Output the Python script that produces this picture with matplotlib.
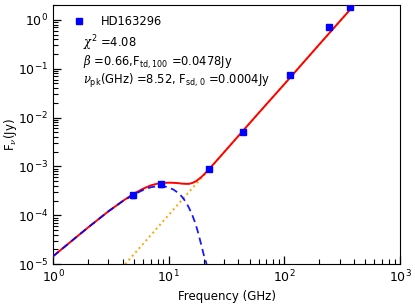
import numpy as np
import matplotlib
matplotlib.use("Agg")
import matplotlib.pyplot as plt

plt.rcParams['font.family'] = ['DejaVu Sans']
plt.rcParams['mathtext.fontset'] = 'custom'
plt.rcParams['mathtext.rm'] = 'DejaVu Sans'
plt.rcParams['mathtext.it'] = 'DejaVu Serif:italic'

# datos observados
freq_obs = [4.9, 8.5, 22.5, 44.0, 112.0, 245.0, 370.0]
flux_obs = [2.55e-4, 4.3e-4, 9.0e-4, 5.1e-3, 0.0736, 0.72, 1.85]
err_obs = [2.5e-5, 4.5e-5, 9e-5, 5e-4, 7e-3, 0.08, 0.15]

# modelo total (rojo)
freq_tot = [1.0, 1.5, 2.0, 3.0, 4.0, 5.0, 6.0, 7.0, 8.0, 9.0, 10.0, 11.0, 12.0,
            13.0, 14.0, 15.0, 16.0, 17.0, 18.0, 19.0, 20.0, 22.0, 25.0, 30.0,
            40.0, 60.0, 100.0, 200.0, 400.0]
flux_tot = [1.45e-5, 3.2e-5, 5.6e-5, 1.2e-4, 1.96e-4, 2.78e-4, 3.5e-4, 4.1e-4,
            4.45e-4, 4.6e-4, 4.65e-4, 4.62e-4, 4.55e-4, 4.45e-4, 4.4e-4, 4.4e-4,
            4.6e-4, 4.9e-4, 5.4e-4, 6.0e-4, 6.7e-4, 8.5e-4, 1.19e-3, 1.94e-3,
            4.2e-3, 1.25e-2, 4.85e-2, 0.314, 2.0]

# spinning dust (azul)
freq_sd = [1.0, 1.5, 2.0, 3.0, 4.0, 5.0, 6.0, 7.0, 8.0, 9.0, 10.0, 11.0, 12.0,
           13.0, 14.0, 15.0, 16.0, 17.0, 18.0, 19.0, 20.0, 21.0, 22.0]
flux_sd = [1.45e-5, 3.2e-5, 5.6e-5, 1.2e-4, 1.95e-4, 2.65e-4, 3.3e-4, 3.75e-4,
           3.95e-4, 3.95e-4, 3.7e-4, 3.35e-4, 2.9e-4, 2.4e-4, 1.9e-4, 1.4e-4,
           1.0e-4, 6.8e-5, 4.3e-5, 2.6e-5, 1.6e-5, 1.1e-5, 7e-6]

# polvo termico (naranja)
freq_td = [4.2, 400.0]
flux_td = [1e-5, 2.0]

fig = plt.figure(figsize=(4.15, 3.05), dpi=100)
ax = fig.add_axes([0.128, 0.134, 0.836, 0.85])

ax.plot(freq_td, flux_td, color='orange', linestyle=':', lw=1.4, zorder=2)
ax.plot(freq_tot, flux_tot, color='red', lw=1.4, zorder=3)
ax.plot(freq_sd, flux_sd, color='blue', linestyle='--', lw=1.3,
        dashes=(4, 2.5), zorder=3, alpha=0.9)
ax.errorbar(freq_obs, flux_obs, yerr=err_obs, fmt='s', color='blue',
            ms=4.6, elinewidth=1.2, capsize=1.5, zorder=4)
ax.plot([], [], 's', color='blue', ms=4.6, label='HD163296')

ax.set_xscale('log')
ax.set_yscale('log')
ax.set_xlim(1, 1000)
ax.set_ylim(1e-5, 2.03)

ax.tick_params(which='both', direction='in', top=False, right=False,
               labelsize=9)
ax.tick_params(which='major', length=6, width=0.9)
ax.tick_params(which='minor', length=3.5, width=0.8)
ax.yaxis.set_minor_locator(matplotlib.ticker.LogLocator(base=10, subs=np.arange(2, 10), numticks=20))
ax.yaxis.set_minor_formatter(matplotlib.ticker.NullFormatter())

ax.set_xlabel('Frequency (GHz)', fontsize=8.5, labelpad=3)
ax.set_ylabel(r'F$_\nu$(Jy)', fontsize=8.5)
ax.yaxis.set_label_coords(-0.098, 0.5)

ax.legend(loc='upper left', frameon=False, fontsize=8.3, numpoints=1,
          handlelength=1.0, handletextpad=1.4, borderaxespad=0.45,
          bbox_to_anchor=(0.03, 1.0))

ax.text(0.085, 0.835, r'$\chi^2$ =4.08', transform=ax.transAxes, fontsize=8.3)
ax.text(0.085, 0.765, r'$\beta$ =0.66,F$_{\rm td,100}$ =0.0478Jy',
        transform=ax.transAxes, fontsize=8.3)
ax.text(0.085, 0.695, r'$\nu_{\rm pk}$(GHz) =8.52, F$_{\rm sd,0}$ =0.0004Jy',
        transform=ax.transAxes, fontsize=8.3)

fig.savefig('out.png', dpi=100)
